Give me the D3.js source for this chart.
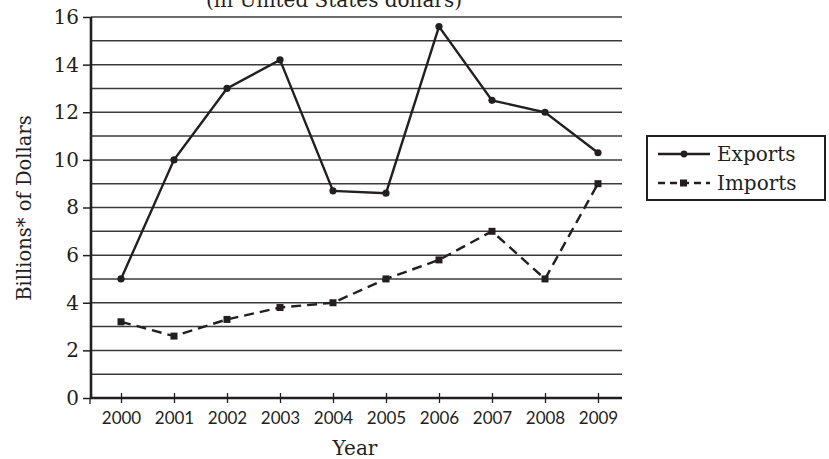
<!DOCTYPE html>
<html>
<head>
<meta charset="utf-8">
<script src="https://cdn.jsdelivr.net/npm/d3@7"></script>
<style>
  body { margin: 0; background: #fff; }
  svg { display: block; }
</style>
</head>
<body>
<div id="chart"></div>
<script>
// Data
const years = [2000, 2001, 2002, 2003, 2004, 2005, 2006, 2007, 2008, 2009];
const exports = [5, 10, 13, 14.2, 8.7, 8.6, 15.6, 12.5, 12, 10.3];
const imports = [3.2, 2.6, 3.3, 3.8, 4, 5, 5.8, 7, 5, 9];
const yTicks = [0, 2, 4, 6, 8, 10, 12, 14, 16];
const gridValues = [1, 2, 3, 4, 5, 6, 7, 8, 9, 10, 11, 12, 13, 14, 15, 16];

const W = 829, H = 459;
const m = { left: 91, right: 207, top: 17, bottom: 61 };
const ink = '#231f20';
const serif = '"DejaVu Serif", "Liberation Serif", serif';

const svg = d3.select('#chart').append('svg')
  .attr('width', W).attr('height', H);

// x: 2000 sits 30px in from the axis, 2009 sits 24px before the end
const x = d3.scaleLinear()
  .domain([2000 - 30 / 53, 2009 + 24 / 53])
  .range([m.left, W - m.right]);
const y = d3.scaleLinear()
  .domain([0, 16])
  .range([H - m.bottom, m.top]);

// Horizontal grid
svg.append('g')
  .selectAll('line')
  .data(gridValues)
  .join('line')
  .attr('x1', m.left).attr('x2', W - m.right)
  .attr('y1', d => y(d)).attr('y2', d => y(d))
  .attr('stroke', '#3a3a3a')
  .attr('stroke-width', 1.5);

// Y axis (labels every 2, small tick to the left)
const yAxis = svg.append('g')
  .attr('transform', `translate(${m.left},0)`)
  .call(d3.axisLeft(y).tickValues(yTicks).tickSize(8).tickPadding(4).tickFormat(d3.format('d')));
yAxis.select('.domain').remove();
yAxis.selectAll('.tick line').attr('stroke', ink).attr('stroke-width', 1.5);
yAxis.selectAll('.tick text')
  .attr('fill', ink)
  .style('font-family', serif)
  .style('font-size', '20px');

// X axis ticks cross the axis line
const xAxis = svg.append('g')
  .attr('transform', `translate(0,${y(0)})`)
  .call(d3.axisBottom(x).tickValues(years).tickSize(5).tickPadding(9).tickFormat(d3.format('d')));
xAxis.select('.domain').remove();
xAxis.selectAll('.tick line')
  .attr('y1', -5)
  .attr('stroke', ink).attr('stroke-width', 1.3);
xAxis.selectAll('.tick text')
  .attr('fill', ink)
  .style('font-family', 'Lato, "Open Sans", sans-serif')
  .style('font-size', '17px');
xAxis.append('line')
  .attr('x1', m.left - 1).attr('x2', m.left - 1)
  .attr('y1', 0).attr('y2', 6)
  .attr('stroke', ink).attr('stroke-width', 1.3);

// Axis lines
svg.append('line')
  .attr('x1', m.left).attr('x2', m.left)
  .attr('y1', y(16)).attr('y2', y(0) + 1)
  .attr('stroke', ink).attr('stroke-width', 2.6);
svg.append('line')
  .attr('x1', m.left - 1).attr('x2', W - m.right)
  .attr('y1', y(0)).attr('y2', y(0))
  .attr('stroke', ink).attr('stroke-width', 2.6);

// Series
const line = d3.line()
  .x((d, i) => x(years[i]))
  .y(d => y(d));

svg.append('path')
  .datum(imports)
  .attr('d', line)
  .attr('fill', 'none')
  .attr('stroke', ink)
  .attr('stroke-width', 2.4)
  .attr('stroke-dasharray', '10,6');
svg.append('g')
  .selectAll('rect')
  .data(imports)
  .join('rect')
  .attr('x', (d, i) => x(years[i]) - 3.5)
  .attr('y', d => y(d) - 3.5)
  .attr('width', 7).attr('height', 7)
  .attr('fill', ink);

svg.append('path')
  .datum(exports)
  .attr('d', line)
  .attr('fill', 'none')
  .attr('stroke', ink)
  .attr('stroke-width', 2.4);
svg.append('g')
  .selectAll('circle')
  .data(exports)
  .join('circle')
  .attr('cx', (d, i) => x(years[i]))
  .attr('cy', d => y(d))
  .attr('r', 3.6)
  .attr('fill', ink);

// Titles
svg.append('text')
  .attr('x', 334).attr('y', 7)
  .attr('text-anchor', 'middle')
  .attr('fill', ink)
  .style('font-family', serif)
  .style('font-size', '20px')
  .text('(in United States dollars)');

svg.append('text')
  .attr('transform', `translate(31,208) rotate(-90)`)
  .attr('text-anchor', 'middle')
  .attr('fill', ink)
  .style('font-family', serif)
  .style('font-size', '19.5px')
  .text('Billions* of Dollars');

svg.append('text')
  .attr('x', 355).attr('y', 455)
  .attr('text-anchor', 'middle')
  .attr('fill', ink)
  .style('font-family', serif)
  .style('font-size', '20px')
  .text('Year');

// Legend
const legend = svg.append('g').attr('transform', 'translate(647,136)');
legend.append('rect')
  .attr('width', 178).attr('height', 64)
  .attr('fill', 'none')
  .attr('stroke', ink)
  .attr('stroke-width', 2);

const legendItems = [
  { name: 'Exports', dash: null, marker: 'circle' },
  { name: 'Imports', dash: '7,5', marker: 'rect' }
];
legendItems.forEach((d, i) => {
  const gy = 18 + i * 29;
  legend.append('line')
    .attr('x1', 11).attr('x2', 63)
    .attr('y1', gy).attr('y2', gy)
    .attr('stroke', ink).attr('stroke-width', 2.4)
    .attr('stroke-dasharray', d.dash);
  if (d.marker === 'circle') {
    legend.append('circle').attr('cx', 37).attr('cy', gy).attr('r', 3.4).attr('fill', ink);
  } else {
    legend.append('rect').attr('x', 33).attr('y', gy - 3.5).attr('width', 7).attr('height', 7).attr('fill', ink);
  }
  legend.append('text')
    .attr('x', 70).attr('y', gy + 7)
    .attr('fill', ink)
    .style('font-family', serif)
    .style('font-size', '20px')
    .text(d.name);
});
</script>
</body>
</html>
